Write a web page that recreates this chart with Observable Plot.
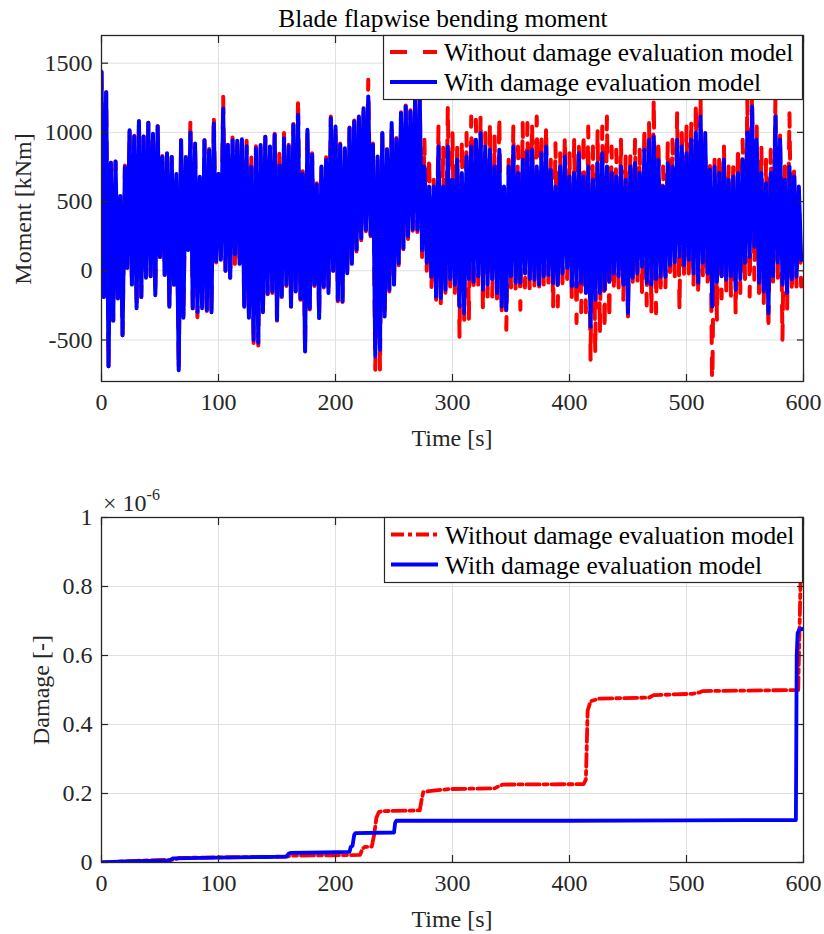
<!DOCTYPE html>
<html>
<head>
<meta charset="utf-8">
<script src="https://cdn.jsdelivr.net/npm/d3@7"></script>
<script src="https://cdn.jsdelivr.net/npm/@observablehq/plot@0.6"></script>
<style>
  html, body { margin: 0; padding: 0; background: #fff; }
  #page { position: relative; width: 824px; height: 934px; overflow: hidden; }
  #page > svg, #page > figure { position: absolute; left: 0; margin: 0; }
  #topChart { top: 0; }
  #bottomChart { top: 450px; }
  #overlay { position: absolute; left: 0; top: 0; pointer-events: none; }
  #page svg, #page svg text { font-family: "Liberation Serif", "Times New Roman", Times, serif !important; }
</style>
</head>
<body>
<div id="page"></div>
<script>
// ---------------- DATA ----------------
// Top panel: blade flapwise bending moment [kNm]; peaks (upper) and troughs (lower)
// read per 4-second window starting at each binStart time.
const binStart = d3.range(0, 600, 4);

const withUpper = [
  1437, 1290, 780, 790, 540, 750, 1016, 970, 1083, 970,
  1069, 990, 1045, 823, 850, 823, 700, 944, 823, 1000,
  920, 680, 944, 870, 1064, 700, 1173, 908, 944, 940,
  950, 900, 750, 883, 908, 968, 898, 983, 760, 958,
  900, 1055, 1127, 700, 1019, 838, 621, 754, 800, 1103,
  1043, 910, 886, 1031, 1079, 1115, 1175, 1260, 910, 826,
  995, 874, 1067, 950, 1139, 1187, 1150, 1235, 1240, 754,
  609, 609, 898, 609, 898, 658, 802, 706, 826, 898,
  946, 995, 898, 874, 754, 874, 609, 754, 898, 706,
  802, 860, 874, 754, 850, 898, 730, 609, 754, 826,
  682, 706, 850, 682, 754, 658, 778, 850, 754, 706,
  682, 754, 658, 754, 778, 706, 874, 946, 970, 802,
  609, 778, 754, 946, 898, 850, 946, 1000, 1115, 995,
  730, 754, 706, 802, 658, 682, 706, 802, 1000, 1187,
  946, 706, 633, 706, 1115, 946, 658, 754, 682, 609
];
const withLower = [
  -190, -690, -360, -200, -465, 20, -100, -270, -190, -50,
  -40, -176, 100, -30, -260, -100, -718, -340, 150, -270,
  -300, -270, -284, -300, 70, 80, 0, -50, 120, 50,
  -260, -340, -500, -520, -300, -164, -150, -354, -185, -100,
  -258, -150, -200, -583, -270, -100, -342, -113, -161, 0,
  -210, -220, -17, 50, 152, 236, 296, 260, -619, -570,
  -330, -137, -100, 55, 164, 250, 300, 296, 150, 58,
  -43, -188, -197, -137, -60, -100, -258, -306, -60, -80,
  -40, -137, -100, -60, -161, -258, -282, -40, -87, -87,
  -20, -60, -65, -100, -40, -30, -89, -100, -20, 20,
  -113, -113, -89, -161, -404, -209, -161, -137, -80, -20,
  -40, -100, -306, -50, -20, 30, -87, -100, -60, -43,
  -43, 40, 60, 101, 40, 80, -20, -87, 60, -20,
  -258, -80, -40, -65, -40, -137, -60, 58, 100, 173,
  -87, -150, -306, -40, 60, -100, -161, -60, -43, 77
];
const withoutUpper = [
  1440, 1290, 780, 790, 540, 760, 1020, 975, 1083, 970,
  1069, 990, 1045, 830, 850, 823, 700, 944, 823, 1093,
  920, 690, 944, 880, 1124, 700, 1257, 910, 963, 940,
  950, 940, 850, 900, 910, 968, 900, 990, 862, 995,
  910, 1060, 1248, 720, 1020, 850, 640, 760, 820, 1115,
  1050, 920, 890, 1035, 1085, 1120, 1180, 1380, 920, 830,
  1000, 880, 1070, 960, 1145, 1195, 1160, 1245, 1240, 946,
  826, 658, 1043, 900, 1187, 995, 898, 946, 995, 1115,
  1091, 1115, 995, 1067, 970, 1115, 585, 802, 1043, 898,
  1067, 1067, 1067, 1115, 995, 1043, 802, 922, 850, 970,
  850, 946, 922, 995, 1043, 898, 1019, 1043, 1115, 898,
  874, 946, 826, 850, 946, 874, 1043, 1067, 1240, 946,
  754, 922, 946, 1139, 995, 1043, 1091, 1211, 1260, 874,
  802, 802, 850, 898, 754, 802, 898, 946, 1235, 1280,
  1043, 898, 802, 874, 1250, 995, 754, 1139, 754, 561
];
const withoutLower = [
  -190, -690, -360, -200, -465, 20, -100, -270, -190, -50,
  -40, -176, 100, -30, -260, -100, -718, -340, 150, -280,
  -335, -280, -290, -310, 60, 80, 0, -70, 50, 50,
  -270, -345, -545, -540, -300, -170, -160, -360, -190, -110,
  -270, -160, -210, -590, -280, -110, -345, -120, -170, 0,
  -220, -225, -30, 40, 140, 220, 280, 250, -715, -715,
  -340, -150, -110, 40, 150, 230, 290, 280, 100, 0,
  -137, -209, -234, -185, -113, -161, -477, -354, -354, -150,
  -100, -282, -185, -185, -200, -300, -426, -120, -150, -282,
  -120, -150, -110, -160, -120, -90, -258, -258, -90, -60,
  -200, -378, -300, -300, -643, -595, -450, -426, -354, -150,
  -120, -209, -330, -120, -90, -161, -250, -300, -306, -120,
  -130, -60, -40, -282, -60, -20, -100, -180, -60, -100,
  -900, -354, -200, -150, -180, -306, -161, -60, -185, -65,
  -161, -250, -426, -100, -50, -498, -282, -161, -113, -113
];

// Bottom panel: accumulated damage [x 1e-6]
const damageWithT = [0, 20, 58, 60, 61, 100, 140, 158, 160, 162, 190, 212, 213, 214.5, 216, 217, 250, 251, 252, 300, 400, 500, 550, 593.5, 594.2, 595, 596.5, 600];
const damageWithV = [0, 0.003, 0.006, 0.01, 0.012, 0.014, 0.016, 0.017, 0.026, 0.028, 0.029, 0.031, 0.045, 0.048, 0.08, 0.085, 0.087, 0.115, 0.121, 0.121, 0.121, 0.122, 0.123, 0.123, 0.6, 0.665, 0.676, 0.677];
const damageWithoutT = [0, 30, 62, 66, 100, 158, 162, 200, 221, 223, 225, 231, 233, 235, 237, 240, 272, 273.5, 275, 280, 298, 336, 340, 343, 412, 414, 415.5, 418, 425, 468, 472, 505, 511, 514, 595.5, 597.5, 600];
const damageWithoutV = [0, 0.005, 0.008, 0.013, 0.015, 0.017, 0.020, 0.021, 0.022, 0.04, 0.045, 0.046, 0.08, 0.13, 0.146, 0.149, 0.151, 0.18, 0.204, 0.207, 0.213, 0.215, 0.222, 0.226, 0.227, 0.24, 0.44, 0.467, 0.475, 0.478, 0.485, 0.489, 0.493, 0.497, 0.5, 0.82, 0.95];

const timeTicks = [0, 100, 200, 300, 400, 500, 600];
const momentTicks = [-500, 0, 500, 1000, 1500];
const damageTicks = [0, 0.2, 0.4, 0.6, 0.8, 1];

const seriesNames = ["Without damage evaluation model", "With damage evaluation model"];
const titleText = "Blade flapwise bending moment";

// ---------------- DRAWING ----------------
const FONT = '"Liberation Serif", "Times New Roman", Times, serif';
const INK = "#262626";
const RED = "#ff0000";
const BLUE = "#0000ff";
const GRID = "#dfdfdf";

const envelope = (upper, lower) =>
  binStart.flatMap((t, i) => [{t, v: upper[i]}, {t: t + 2, v: lower[i]}]);
const zipTV = (T, V) => T.map((t, i) => ({t, v: V[i]}));

function gridMarks(yTicks) {
  return [
    Plot.gridX(timeTicks, {stroke: GRID, strokeOpacity: 1, strokeWidth: 1}),
    Plot.gridY(yTicks, {stroke: GRID, strokeOpacity: 1, strokeWidth: 1})
  ];
}
function frameMarks(yTicks, yFmt) {
  const tk = {stroke: INK, strokeWidth: 1.2, tickFormat: () => "", label: null};
  return [
    Plot.frame({stroke: INK, strokeWidth: 1.3}),
    Plot.axisX(timeTicks, {anchor: "bottom", tickSize: 7, dy: -7, ...tk}),
    Plot.axisX(timeTicks, {anchor: "top", tickSize: 7, dy: 7, ...tk}),
    Plot.axisY(yTicks, {anchor: "left", tickSize: 7, dx: 7, ...tk}),
    Plot.axisY(yTicks, {anchor: "right", tickSize: 7, dx: -7, ...tk}),
    Plot.axisX(timeTicks, {anchor: "bottom", tickSize: 0, tickPadding: 11, label: null, fontSize: 24, fontFamily: FONT, fill: INK, tickFormat: d => String(d)}),
    Plot.axisY(yTicks, {anchor: "left", tickSize: 0, tickPadding: 9, label: null, fontSize: 24, fontFamily: FONT, fill: INK, tickFormat: yFmt})
  ];
}

const topChart = Plot.plot({
  width: 824, height: 450,
  marginLeft: 101, marginRight: 21, marginTop: 35, marginBottom: 69,
  x: {domain: [0, 600]},
  y: {domain: [-800, 1700]},
  style: {fontFamily: FONT, fontSize: "24px", color: INK, background: "white", overflow: "visible"},
  marks: [
    ...gridMarks(momentTicks),
    Plot.line(envelope(withoutUpper, withoutLower), {x: "t", y: "v", stroke: RED, strokeWidth: 4, strokeDasharray: "17,15", strokeLinejoin: "round", clip: true}),
    Plot.line(envelope(withUpper, withLower), {x: "t", y: "v", stroke: BLUE, strokeWidth: 4, strokeLinejoin: "round", strokeLinecap: "round", clip: true}),
    ...frameMarks(momentTicks, d => String(d))
  ]
});
topChart.id = "topChart";

const bottomChart = Plot.plot({
  width: 824, height: 484,
  marginLeft: 101, marginRight: 21, marginTop: 67, marginBottom: 72,
  x: {domain: [0, 600]},
  y: {domain: [0, 1]},
  style: {fontFamily: FONT, fontSize: "24px", color: INK, background: "white", overflow: "visible"},
  marks: [
    ...gridMarks(damageTicks),
    Plot.line(zipTV(damageWithoutT, damageWithoutV), {x: "t", y: "v", stroke: RED, strokeWidth: 3.8, strokeDasharray: "13,4,4,4", clip: true}),
    Plot.line(zipTV(damageWithT, damageWithV), {x: "t", y: "v", stroke: BLUE, strokeWidth: 3.8, strokeLinejoin: "round", clip: true}),
    ...frameMarks(damageTicks, d => (d === 0 ? "0" : d === 1 ? "1" : d.toFixed(1)))
  ]
});
bottomChart.id = "bottomChart";

const page = document.getElementById("page");
page.appendChild(topChart);
page.appendChild(bottomChart);

// Overlay: title, axis titles, legends, exponent
const NS = "http://www.w3.org/2000/svg";
const ov = document.createElementNS(NS, "svg");
ov.setAttribute("id", "overlay");
ov.setAttribute("width", 824);
ov.setAttribute("height", 934);
ov.style.fontFamily = FONT;
page.appendChild(ov);

function el(name, attrs, text) {
  const e = document.createElementNS(NS, name);
  for (const k in attrs) e.setAttribute(k, attrs[k]);
  if (text != null) e.textContent = text;
  ov.appendChild(e);
  return e;
}

el("text", {x: 443, y: 27, "text-anchor": "middle", "font-size": 25.4, fill: "#000"}, titleText);
el("text", {x: 452, y: 446, "text-anchor": "middle", "font-size": 24, fill: INK}, "Time [s]");
el("text", {x: 452, y: 927, "text-anchor": "middle", "font-size": 24, fill: INK}, "Time [s]");
el("text", {transform: "translate(31,209) rotate(-90)", "text-anchor": "middle", "font-size": 24, fill: INK}, "Moment [kNm]");
el("text", {transform: "translate(49,690) rotate(-90)", "text-anchor": "middle", "font-size": 24, fill: INK}, "Damage [-]");

const expo = el("text", {x: 103, y: 511, "font-size": 24, fill: INK});
const t1 = document.createElementNS(NS, "tspan"); t1.textContent = "\u00d7 10"; expo.appendChild(t1);
const t2 = document.createElementNS(NS, "tspan"); t2.setAttribute("font-size", 16); t2.setAttribute("dy", -11); t2.textContent = "-6"; expo.appendChild(t2);

function legend(x0, y0, w, h, rowY, dashRed) {
  el("rect", {x: x0 + 0.5, y: y0 + 0.5, width: w, height: h, fill: "white", stroke: INK, "stroke-width": 1.2});
  el("line", {x1: x0 + 7, x2: x0 + 54, y1: rowY[0], y2: rowY[0], stroke: RED, "stroke-width": 4, "stroke-dasharray": dashRed});
  el("line", {x1: x0 + 7, x2: x0 + 54, y1: rowY[1], y2: rowY[1], stroke: BLUE, "stroke-width": 4});
  el("text", {x: x0 + 61, y: rowY[0] + 9, "font-size": 25.4, fill: "#000"}, seriesNames[0]);
  el("text", {x: x0 + 61, y: rowY[1] + 9, "font-size": 25.4, fill: "#000"}, seriesNames[1]);
}
legend(383, 35, 419, 64, [52, 82], "17,16");
legend(384, 517, 418, 65, [534.5, 564.5], "13,4,4,4");
</script>
</body>
</html>
